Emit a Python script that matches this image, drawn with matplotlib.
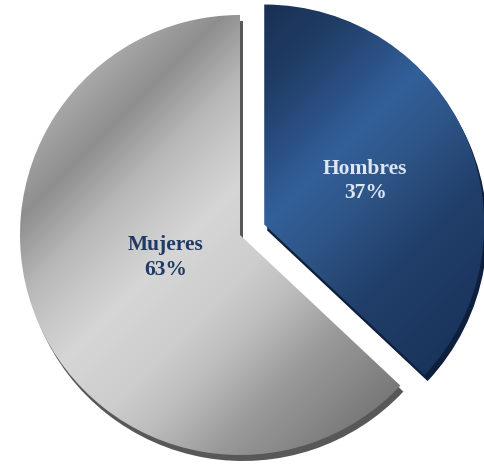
import numpy as np
import matplotlib
matplotlib.use('Agg')
import matplotlib.pyplot as plt
from matplotlib.colors import LinearSegmentedColormap

labels = ['Hombres', 'Mujeres']
values = [37, 63]
explode = [0.12, 0]

grey_cm = LinearSegmentedColormap.from_list('grey', [
    (0.0, '#a8a8a8'), (0.12, '#b0b0b0'), (0.23, '#8e8e8e'), (0.32, '#b8b8b8'),
    (0.44, '#d6d6d6'), (0.55, '#cdcdcd'), (0.62, '#bdbdbd'), (0.72, '#9a9a9a'),
    (0.85, '#7a7a7a'), (1.0, '#6a6a6a')])
blue_cm = LinearSegmentedColormap.from_list('blue', [
    (0.0, '#132745'), (0.2, '#162a4a'), (0.35, '#203d66'), (0.5, '#33609a'),
    (0.58, '#2e5688'), (0.7, '#213f6a'), (0.85, '#1a355d'), (1.0, '#132a4c')])
edge_colors = ['#0e1f3c', '#585858']
text_colors = ['#dde6f2', '#1f3a64']
label_dist = [0.5, 0.36]
label_shift = [(0, 0), (-2, 9)]

fig = plt.figure(figsize=(4.85, 4.66), dpi=100)
ax = fig.add_axes([0, 0, 1, 1])

R = 220
cx, cy = 240, 231
expl = [e * R for e in explode]

# side / shadow of the slices
ax.pie(values, explode=expl, startangle=90, counterclock=False, radius=R,
       center=(cx + 3, cy - 6), colors=edge_colors, frame=True,
       wedgeprops=dict(linewidth=0, zorder=1))

wedges, _ = ax.pie(values, explode=expl, startangle=90, counterclock=False, radius=R,
                   center=(cx, cy), colors=['none', 'none'], frame=True,
                   wedgeprops=dict(linewidth=0, zorder=2))

xx, yy = np.meshgrid(np.linspace(0, 485, 485), np.linspace(0, 466, 466))
for w, cm, tc, d, sh, lab, v in zip(wedges, [blue_cm, grey_cm], text_colors, label_dist,
                                     label_shift, labels, values):
    wx, wy = w.center
    t = ((xx - (wx - R)) + ((wy + R) - yy)) / (4 * R)
    im = ax.imshow(t, cmap=cm, vmin=0, vmax=1, extent=[0, 485, 0, 466], origin='lower',
                   zorder=2, interpolation='bilinear')
    im.set_clip_path(w)
    ang = np.deg2rad((w.theta1 + w.theta2) / 2)
    ax.text(wx + d * R * np.cos(ang) + sh[0], wy + d * R * np.sin(ang) + sh[1],
            '%s\n%d%%' % (lab, v),
            ha='center', va='center', color=tc, fontsize=15.5, fontweight='bold',
            family='Liberation Serif', linespacing=1.3, zorder=3)

ax.set_xlim(0, 485)
ax.set_ylim(0, 466)
ax.set_aspect('auto')
ax.axis('off')
fig.savefig('out.png', dpi=100)
